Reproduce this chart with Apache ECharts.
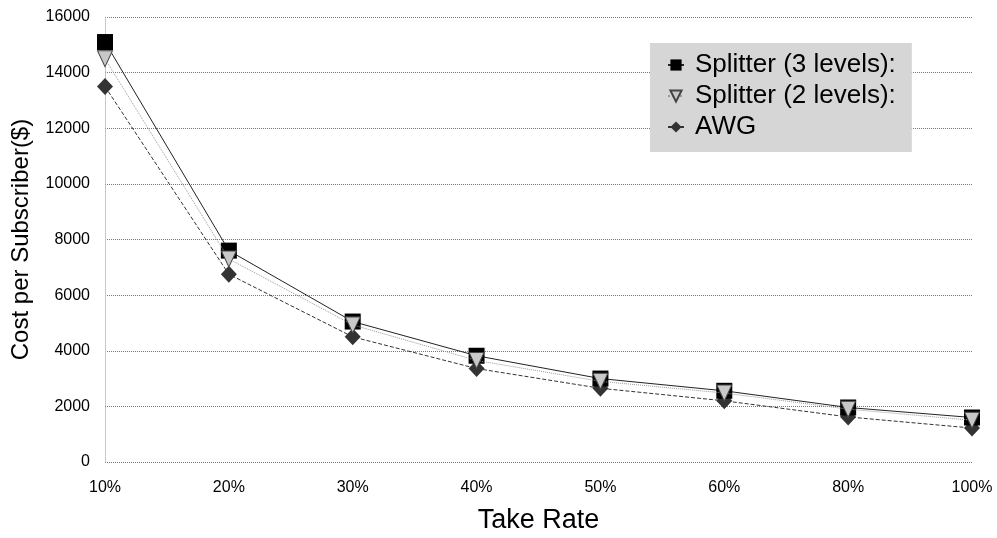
<!DOCTYPE html>
<html><head><meta charset="utf-8">
<script src="https://cdn.jsdelivr.net/npm/echarts@6/dist/echarts.min.js"></script>
<style>html,body{margin:0;padding:0;background:#fff}#c{width:997px;height:538px}</style>
</head><body><div id="c"></div>
<script>
const categories = ['10%','20%','30%','40%','50%','60%','80%','100%'];
const splitter3 = [15100, 7600, 5050, 3820, 3000, 2560, 1960, 1600];
const splitter2 = [14500, 7300, 4930, 3650, 2900, 2480, 1900, 1500];
const awg = [13500, 6750, 4500, 3360, 2650, 2200, 1620, 1220];
const seriesNames = ['Splitter (3 levels):', 'Splitter (2 levels):', 'AWG'];

const chart = echarts.init(document.getElementById('c'), null, {renderer:'canvas'});
const font = 'Liberation Sans, Arial, sans-serif';
chart.setOption({
  animation:false,
  backgroundColor:'#fff',
  grid:{left:105,right:25,top:17,bottom:76, outerBoundsMode:'none', containLabel:false},
  legend:{
    orient:'vertical', left:650, top:43,
    backgroundColor:'#d6d6d6', padding:[9,16,12,17], itemGap:5,
    itemWidth:16, itemHeight:14,
    textStyle:{fontSize:26, color:'#000', fontFamily:font, padding:[0,0,0,6]},
    data:seriesNames
  },
  xAxis:{
    type:'category', data:categories, boundaryGap:false,
    name:'Take Rate', nameLocation:'middle', nameGap:45,
    nameTextStyle:{fontSize:27,color:'#000',fontFamily:font},
    axisLine:{show:false}, axisTick:{show:false},
    axisLabel:{fontSize:16,color:'#000',fontFamily:font,margin:18}
  },
  yAxis:{
    type:'value', min:0, max:16000, interval:2000,
    name:'Cost per Subscriber($)', nameLocation:'middle', nameGap:72,
    nameTextStyle:{fontSize:24,color:'#000',fontFamily:font},
    axisLine:{show:true, lineStyle:{type:'dotted',color:'#bbb'}}, axisTick:{show:false},
    axisLabel:{fontSize:16,color:'#000',fontFamily:font,margin:15, formatter:v=>String(v)},
    splitLine:{lineStyle:{type:'dotted',color:'#777',width:1}}
  },
  series:[
    {name:seriesNames[0], type:'line', data:splitter3, symbol:'rect', symbolSize:16,
     itemStyle:{color:'#000'}, lineStyle:{color:'#222',width:1,type:'solid'}, z:3},
    {name:seriesNames[1], type:'line', data:splitter2, symbol:'triangle', symbolRotate:180, symbolSize:[15,16],
     itemStyle:{color:'#c8c8c8',borderColor:'#444',borderWidth:1}, lineStyle:{color:'#999',width:1,type:'dotted'}, z:4},
    {name:seriesNames[2], type:'line', data:awg, symbol:'diamond', symbolSize:[16,17],
     itemStyle:{color:'#333'}, lineStyle:{color:'#333',width:1,type:'dashed'}, z:2}
  ]
});
</script></body></html>
